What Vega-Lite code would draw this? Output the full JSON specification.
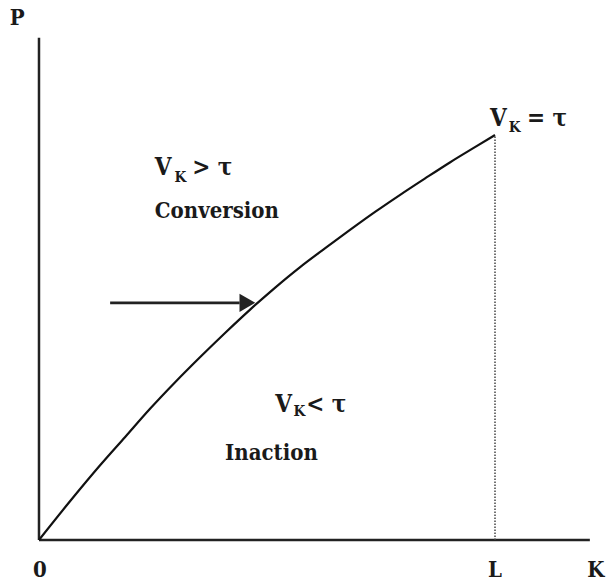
{
  "$schema": "https://vega.github.io/schema/vega-lite/v6.json",
  "width": 606,
  "height": 583,
  "autosize": "none",
  "padding": 0,
  "background": "white",
  "config": {"view": {"stroke": null}},
  "datasets": {
    "curve": [
      {"k": 0, "p": 0}, {"k": 0.68, "p": 0.86}, {"k": 1.34, "p": 1.66}, {"k": 1.89, "p": 2.29},
      {"k": 2.43, "p": 2.91}, {"k": 2.98, "p": 3.5}, {"k": 3.53, "p": 4.06}, {"k": 4.08, "p": 4.6},
      {"k": 4.63, "p": 5.12}, {"k": 5.18, "p": 5.61}, {"k": 5.72, "p": 6.06}, {"k": 6.27, "p": 6.48},
      {"k": 6.82, "p": 6.89}, {"k": 7.37, "p": 7.29}, {"k": 7.92, "p": 7.67}, {"k": 8.46, "p": 8.03},
      {"k": 9.01, "p": 8.39}, {"k": 9.56, "p": 8.73}, {"k": 10, "p": 9.0}
    ],
    "axes": [
      {"k": 0, "p": 0, "k2": 0, "p2": 11.16},
      {"k": 0, "p": 0, "k2": 12.08, "p2": 0}
    ],
    "dotted": [{"k": 10, "p": 0, "k2": 10, "p2": 9}],
    "arrow": [{"k": 1.56, "p": 5.27, "k2": 4.4, "p2": 5.27}],
    "head": [{"k": 4.57, "p": 5.27}],
    "main": [
      {"k": 2.54, "p": 8.11, "t": "V"},
      {"k": 3.36, "p": 8.11, "t": "> τ"},
      {"k": 9.89, "p": 9.2, "t": "V"},
      {"k": 10.7, "p": 9.2, "t": "= τ"},
      {"k": 5.18, "p": 2.84, "t": "V"},
      {"k": 5.86, "p": 2.84, "t": "< τ"}
    ],
    "words": [
      {"k": 2.54, "p": 7.16, "t": "Conversion"},
      {"k": 4.08, "p": 1.78, "t": "Inaction"}
    ],
    "subs": [
      {"k": 2.97, "p": 7.96, "t": "K"},
      {"k": 10.3, "p": 9.07, "t": "K"},
      {"k": 5.58, "p": 2.76, "t": "K"}
    ],
    "axislabels": [
      {"k": -0.48, "p": 11.6, "t": "P"},
      {"k": 0.02, "p": -0.67, "t": "0"},
      {"k": 10.0, "p": -0.67, "t": "L"},
      {"k": 12.21, "p": -0.67, "t": "K"}
    ]
  },
  "encoding": {
    "x": {"field": "k", "type": "quantitative", "scale": {"domain": [-0.855, 12.434], "nice": false, "zero": false}, "axis": null},
    "y": {"field": "p", "type": "quantitative", "scale": {"domain": [-0.956, 12.0], "nice": false, "zero": false}, "axis": null}
  },
  "layer": [
    {
      "data": {"name": "axes"},
      "mark": {"type": "rule", "color": "#222222", "strokeWidth": 2.5},
      "encoding": {"x2": {"field": "k2"}, "y2": {"field": "p2"}}
    },
    {
      "data": {"name": "dotted"},
      "mark": {"type": "rule", "color": "#444444", "strokeWidth": 1.5, "strokeDash": [1.5, 1.5]},
      "encoding": {"x2": {"field": "k2"}, "y2": {"field": "p2"}}
    },
    {
      "data": {"name": "curve"},
      "mark": {"type": "line", "color": "#111111", "strokeWidth": 2.2, "interpolate": "monotone"},
      "encoding": {"order": {"field": "k", "type": "quantitative"}}
    },
    {
      "data": {"name": "arrow"},
      "mark": {"type": "rule", "color": "#222222", "strokeWidth": 2.8},
      "encoding": {"x2": {"field": "k2"}, "y2": {"field": "p2"}}
    },
    {
      "data": {"name": "head"},
      "mark": {"type": "point", "shape": "triangle-right", "filled": true, "color": "#222222", "size": 330, "opacity": 1},
      "encoding": {}
    },
    {
      "data": {"name": "main"},
      "mark": {"type": "text", "font": "DejaVu Serif Condensed, DejaVu Serif", "fontWeight": "bold", "fontSize": 24, "align": "left", "baseline": "alphabetic", "color": "#1a1a1a"},
      "encoding": {"text": {"field": "t"}}
    },
    {
      "data": {"name": "words"},
      "mark": {"type": "text", "font": "DejaVu Serif Condensed, DejaVu Serif", "fontWeight": "bold", "fontSize": 22, "align": "left", "baseline": "alphabetic", "color": "#1a1a1a"},
      "encoding": {"text": {"field": "t"}}
    },
    {
      "data": {"name": "subs"},
      "mark": {"type": "text", "font": "DejaVu Serif Condensed, DejaVu Serif", "fontWeight": "bold", "fontSize": 15, "align": "left", "baseline": "alphabetic", "color": "#1a1a1a"},
      "encoding": {"text": {"field": "t"}}
    },
    {
      "data": {"name": "axislabels"},
      "mark": {"type": "text", "font": "DejaVu Serif Condensed, DejaVu Serif", "fontWeight": "bold", "fontSize": 22, "align": "center", "baseline": "middle", "color": "#1a1a1a"},
      "encoding": {"text": {"field": "t"}}
    }
  ]
}
